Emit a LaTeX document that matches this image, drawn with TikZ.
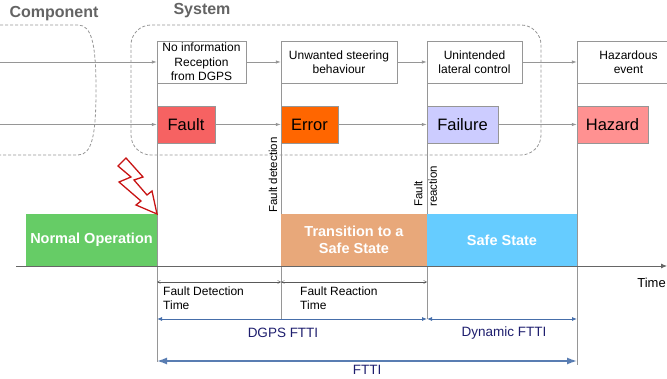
\documentclass[tikz,border=0pt]{standalone}
\usepackage{fontspec}
\setmainfont{Liberation Sans}
\usetikzlibrary{arrows.meta, positioning}
\definecolor{faultred}{RGB}{246, 98, 98}
\definecolor{errororange}{RGB}{255, 102, 0}
\definecolor{failurelilac}{RGB}{204, 204, 255}
\definecolor{hazardpink}{RGB}{255, 145, 145}
\definecolor{normalgreen}{RGB}{102, 204, 102}
\definecolor{transtan}{RGB}{232, 168, 122}
\definecolor{safeblue}{RGB}{102, 204, 255}
\definecolor{linegray}{RGB}{150, 150, 150}
\definecolor{titlegray}{RGB}{100, 100, 100}
\definecolor{fttiblue}{RGB}{70, 110, 170}
\definecolor{labelnavy}{RGB}{30, 30, 110}
\definecolor{boltred}{RGB}{200, 20, 20}
\tikzset{
  eventbox/.style={
    rectangle, draw=linegray, fill=white,
    minimum height=42pt, inner sep=1pt,
    font=\fontsize{12}{14.5}\selectfont, align=center
  },
  statebox/.style={
    rectangle, draw=linegray, fill=#1,
    minimum height=37pt, inner sep=1pt,
    font=\fontsize{16.5}{19}\selectfont
  },
  phasebox/.style={
    rectangle, fill=#1, text=white,
    minimum height=52pt, inner sep=1pt,
    font=\fontsize{14.5}{17}\selectfont\bfseries, align=center
  },
  flow/.style={
    -{Latex[length=5pt, width=3.5pt]}, color=linegray, thick
  },
  groupline/.style={
    draw=linegray, dash pattern=on 3pt off 2pt, thick
  },
  marker/.style={
    draw=linegray, thick
  },
  span/.style={
    {Straight Barb[length=3pt, width=3pt]}-{Straight Barb[length=3pt, width=3pt]},
    color=black!65
  },
  fttiarrow/.style={
    {Latex[length=5pt, width=4pt]}-{Latex[length=5pt, width=4pt]},
    color=fttiblue, thick
  },
  title/.style={
    font=\fontsize{16}{19}\selectfont\bfseries, text=titlegray
  },
  sidenote/.style={
    rotate=90, anchor=west, inner sep=1pt, align=left,
    font=\fontsize{11.5}{14.5}\selectfont
  },
  spanlabel/.style={
    anchor=north west, inner sep=0pt, align=left,
    font=\fontsize{12}{14}\selectfont
  },
  fttilabel/.style={
    text=labelnavy, font=\fontsize{13.5}{15}\selectfont
  }
}

\begin{document}
\begin{tikzpicture}[x=1pt, y=-1pt]

  \clip (0,0) rectangle (667,379);

  % ── Group outlines ─────────────────────────────────────
  \node[title] (comptitle) at (54,14) {Component};
  \node[title] (systitle)  at (202,11) {System};
  \draw[groupline] (0,25) -- (78,25)
    .. controls (92,25) and (96,45) .. (96,90)
    .. controls (96,135) and (92,155) .. (78,155) -- (0,155);
  \draw[groupline, rounded corners=20pt] (131,25) rectangle (541,155);

  % ── Event row ──────────────────────────────────────────
  \node[eventbox, minimum width=89pt]  (info)    at (201.5,62)
    {No information\\Reception\\from DGPS};
  \node[eventbox, minimum width=116pt] (steer)   at (339,62)
    {Unwanted steering\\behaviour};
  \node[eventbox, minimum width=95pt]  (lateral) at (474.5,62)
    {Unintended\\lateral control};
  \node[eventbox, minimum width=103pt] (hazev)   at (628.5,62)
    {Hazardous\\event};

  % ── State row ──────────────────────────────────────────
  \node[statebox=faultred,     minimum width=58pt] (fault)   at (186,124.5)   {Fault};
  \node[statebox=errororange,  minimum width=57pt] (error)   at (309.5,124.5) {Error};
  \node[statebox=failurelilac, minimum width=71pt] (failure) at (462.5,124.5) {Failure};
  \node[statebox=hazardpink,   minimum width=71pt] (hazard)  at (612.5,124.5) {Hazard};

  % ── Arrows: rows ───────────────────────────────────────
  \coordinate (evin) at (0,62);
  \coordinate (stin) at (0,124.5);
  \draw[flow] (evin) -- (info);
  \draw[flow] (info) -- (steer);
  \draw[flow] (steer) -- (lateral);
  \draw[flow] (lateral) -- (hazev);
  \draw[flow] (stin) -- (fault);
  \draw[flow] (fault) -- (error);
  \draw[flow] (error) -- (failure);
  \draw[flow] (failure) -- (hazard);

  % ── Time markers ───────────────────────────────────────
  \coordinate (m1top) at (157,83);  \coordinate (m1bot) at (157,362);
  \coordinate (m2top) at (281,83);  \coordinate (m2bot) at (281,319);
  \coordinate (m3top) at (427,83);  \coordinate (m3bot) at (427,319);
  \coordinate (m4top) at (577,83);  \coordinate (m4bot) at (577,365);
  \foreach \m in {m1, m2, m3, m4}{
    \draw[marker] (\m top) -- (\m bot);
  }
  \node[sidenote] (detect) at (273,214)   {Fault detection};
  \node[sidenote] (react)  at (425.5,208) {Fault\\reaction};

  % ── Phases on the time axis ────────────────────────────
  \node[phasebox=normalgreen, minimum width=131pt] (normal)  at (91.5,240)
    {Normal Operation};
  \node[phasebox=transtan,    minimum width=146pt] (transit) at (354,240)
    {Transition to a\\Safe State};
  \node[phasebox=safeblue,    minimum width=150pt] (safe)    at (502,240)
    {Safe State};
  \coordinate (tstart) at (16,266);
  \coordinate (tend)   at (667,266);
  \draw[thick, color=black!60, -{Latex[length=6pt, width=5pt]}] (tstart) -- (tend);
  \node[font=\fontsize{13}{15}\selectfont, anchor=east, inner sep=0pt]
    (time) at (666,283) {Time};

  % ── Fault strike ───────────────────────────────────────
  \draw[boltred, line width=1.3pt, fill=white, line join=miter]
    (118,166) -- (126,158) -- (143,177) -- (134,180) -- (147,195)
    -- (152,191) -- (157,214) -- (136,205) -- (141,201) -- (119,182)
    -- (131,177) -- cycle;

  % ── Time spans ─────────────────────────────────────────
  \coordinate (s1) at (157,282); \coordinate (s2) at (281,282);
  \coordinate (s3) at (427,282);
  \draw[span] (s1) -- (s2);
  \draw[span] (s2) -- (s3);
  \node[spanlabel] (fdt) at (163,287) {Fault Detection\\Time};
  \node[spanlabel] (frt) at (300,287) {Fault Reaction\\Time};

  \coordinate (d1) at (157,319); \coordinate (d2) at (427,319);
  \coordinate (d3) at (577,319);
  \draw[fttiarrow] (d1) -- (d2);
  \draw[fttiarrow] (d2) -- (d3);
  \node[fttilabel] (dgps) at (283,333) {DGPS FTTI};
  \node[fttilabel] (dyn)  at (504,333) {Dynamic FTTI};

  \coordinate (f1) at (157,361); \coordinate (f2) at (577,361);
  \draw[{Latex[length=10pt, width=7pt]}-{Latex[length=10pt, width=7pt]},
        color=fttiblue!90!white, line width=1.4pt] (f1) -- (f2);
  \node[fttilabel] (ftti) at (367,369.5) {FTTI};

\end{tikzpicture}
\end{document}
